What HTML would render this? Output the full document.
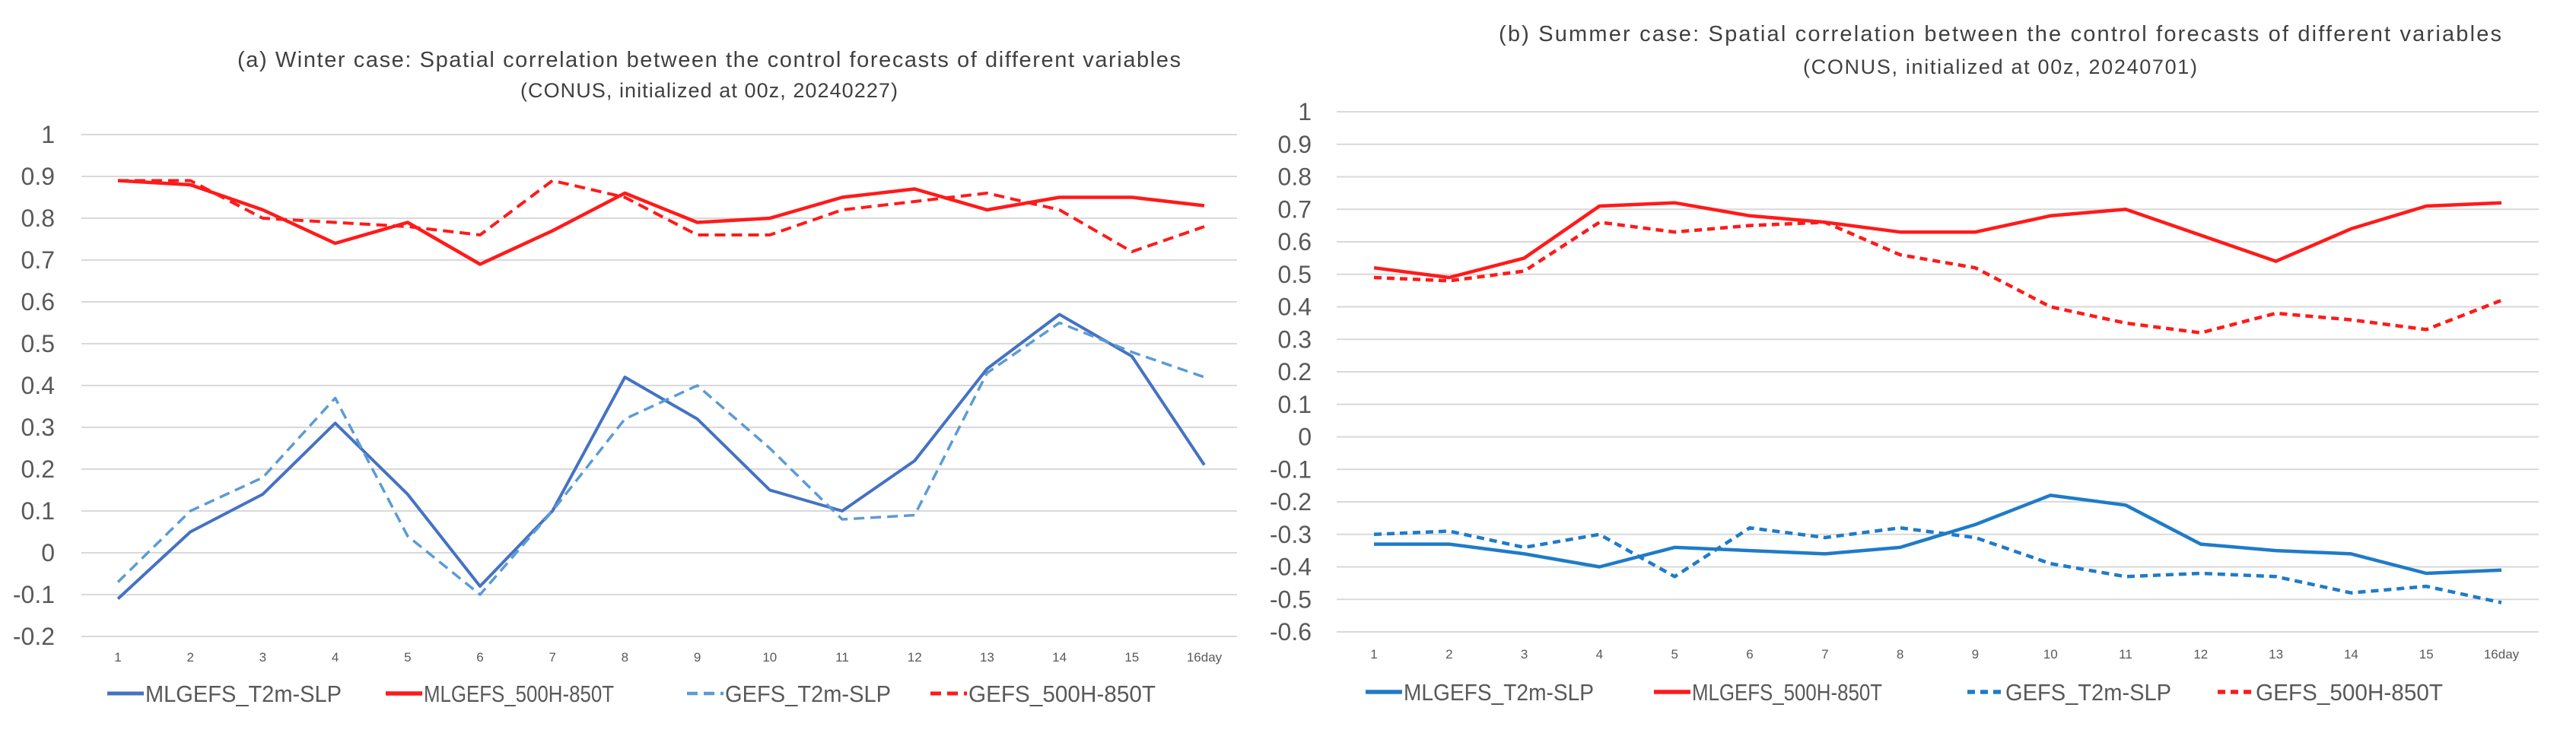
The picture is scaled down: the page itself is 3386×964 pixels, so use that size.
<!DOCTYPE html>
<html><head><meta charset="utf-8"><style>
html,body{margin:0;padding:0;background:#fff;}
svg{display:block;font-family:"Liberation Sans",sans-serif;}
</style></head><body>
<svg id="c" width="3386" height="964" viewBox="0 0 3386 964" xmlns="http://www.w3.org/2000/svg">
<text x="932" y="88" font-size="29" fill="#404040" text-anchor="middle" textLength="1240">(a) Winter case: Spatial correlation between the control forecasts of different variables</text>
<text x="932" y="128" font-size="27" fill="#404040" text-anchor="middle" textLength="496">(CONUS, initialized at 00z, 20240227)</text>
<text x="2629" y="54" font-size="29" fill="#404040" text-anchor="middle" textLength="1318">(b) Summer case: Spatial correlation between the control forecasts of different variables</text>
<text x="2629" y="97" font-size="27" fill="#404040" text-anchor="middle" textLength="518">(CONUS, initialized at 00z, 20240701)</text>
<g id="left"></g>
<g id="right"></g>
</svg>
<script>
const categories = ["1","2","3","4","5","6","7","8","9","10","11","12","13","14","15","16day"];
const seriesNames = ["MLGEFS_T2m-SLP","MLGEFS_500H-850T","GEFS_T2m-SLP","GEFS_500H-850T"];
const winterMlT2m = [-0.11,0.05,0.14,0.31,0.14,-0.08,0.10,0.42,0.32,0.15,0.10,0.22,0.44,0.57,0.47,0.21];
const winterMl500 = [0.89,0.88,0.82,0.74,0.79,0.69,0.77,0.86,0.79,0.80,0.85,0.87,0.82,0.85,0.85,0.83];
const winterGefsT2m = [-0.07,0.10,0.18,0.37,0.04,-0.10,0.10,0.32,0.40,0.25,0.08,0.09,0.43,0.55,0.48,0.42];
const winterGefs500 = [0.89,0.89,0.80,0.79,0.78,0.76,0.89,0.85,0.76,0.76,0.82,0.84,0.86,0.82,0.72,0.78];
const summerMlT2m = [-0.33,-0.33,-0.36,-0.40,-0.34,-0.35,-0.36,-0.34,-0.27,-0.18,-0.21,-0.33,-0.35,-0.36,-0.42,-0.41];
const summerMl500 = [0.52,0.49,0.55,0.71,0.72,0.68,0.66,0.63,0.63,0.68,0.70,0.62,0.54,0.64,0.71,0.72];
const summerGefsT2m = [-0.30,-0.29,-0.34,-0.30,-0.43,-0.28,-0.31,-0.28,-0.31,-0.39,-0.43,-0.42,-0.43,-0.48,-0.46,-0.51];
const summerGefs500 = [0.49,0.48,0.51,0.66,0.63,0.65,0.66,0.56,0.52,0.40,0.35,0.32,0.38,0.36,0.33,0.42];
const winterTicks = ["1","0.9","0.8","0.7","0.6","0.5","0.4","0.3","0.2","0.1","0","-0.1","-0.2"];
const summerTicks = ["1","0.9","0.8","0.7","0.6","0.5","0.4","0.3","0.2","0.1","0","-0.1","-0.2","-0.3","-0.4","-0.5","-0.6"];

const NS="http://www.w3.org/2000/svg";
function mk(parent,tag,attrs){const e=document.createElementNS(NS,tag);for(const k in attrs)e.setAttribute(k,attrs[k]);parent.appendChild(e);return e;}

function panel(g,cfg){
  const yMax=parseFloat(cfg.ticks[0]), yMin=parseFloat(cfg.ticks[cfg.ticks.length-1]);
  const y=v=>cfg.top+(yMax-v)/(yMax-yMin)*(cfg.bottom-cfg.top);
  const x=i=>cfg.x0+i*(cfg.x1-cfg.x0)/(categories.length-1);
  cfg.ticks.forEach(t=>{
    const v=parseFloat(t);
    const ln=mk(g,"line",{x1:cfg.left,x2:cfg.right,y1:y(v),y2:y(v),stroke:"#d9d9d9","stroke-width":2});
    
    
    const tx=mk(g,"text",{x:cfg.labelX,y:y(v)+11,"font-size":32,fill:"#595959","text-anchor":"end"});
    tx.textContent=t;
    
    
  });
  categories.forEach((c,i)=>{
    const tx=mk(g,"text",{x:x(i),y:cfg.xLabelY,"font-size":17,fill:"#595959","text-anchor":"middle"});
    tx.textContent=c;
    
    
  });
  cfg.series.forEach((s,k)=>{
    const pts=s.data.map((v,i)=>x(i).toFixed(1)+","+y(v).toFixed(1)).join(" ");
    const pl=mk(g,"polyline",{points:pts,fill:"none",stroke:s.color,"stroke-width":s.w,"stroke-dasharray":s.dash||"none","stroke-linejoin":"round"});
    
    
    const lx=cfg.legendX[k];
    const ll=mk(g,"line",{x1:lx,x2:lx+48,y1:cfg.legendY,y2:cfg.legendY,stroke:s.color,"stroke-width":s.w+1,"stroke-dasharray":s.dash||"none"});
    
    
    const lt=mk(g,"text",{x:lx+50,y:cfg.legendY+11,"font-size":31,fill:"#595959",textLength:cfg.legendW[k],lengthAdjust:"spacingAndGlyphs"});
    lt.textContent=seriesNames[k];
    
    
  });
}
panel(document.getElementById("left"),{
  ticks:winterTicks,top:177,bottom:837,left:107,right:1626,x0:155,x1:1583,labelX:72,xLabelY:870,
  legendY:912,legendX:[141,507,903,1223],legendW:[258,250,218,246],
  series:[
    {data:winterMlT2m,color:"#4472C4",w:4},
    {data:winterMl500,color:"#FF1A1A",w:4.5},
    {data:winterGefsT2m,color:"#5B9BD5",w:3.5,dash:"14,8"},
    {data:winterGefs500,color:"#FF1A1A",w:4,dash:"14,8"}
  ]});
panel(document.getElementById("right"),{
  ticks:summerTicks,top:147,bottom:831,left:1757,right:3337,x0:1806,x1:3288,labelX:1724,xLabelY:866,
  legendY:910,legendX:[1795,2174,2586,2915],legendW:[250,250,218,246],
  series:[
    {data:summerMlT2m,color:"#1F7BC8",w:4.5},
    {data:summerMl500,color:"#FF1A1A",w:4.5},
    {data:summerGefsT2m,color:"#1F7BC8",w:4.5,dash:"10,7"},
    {data:summerGefs500,color:"#FF1A1A",w:4.5,dash:"10,7"}
  ]});
</script>
</body></html>
